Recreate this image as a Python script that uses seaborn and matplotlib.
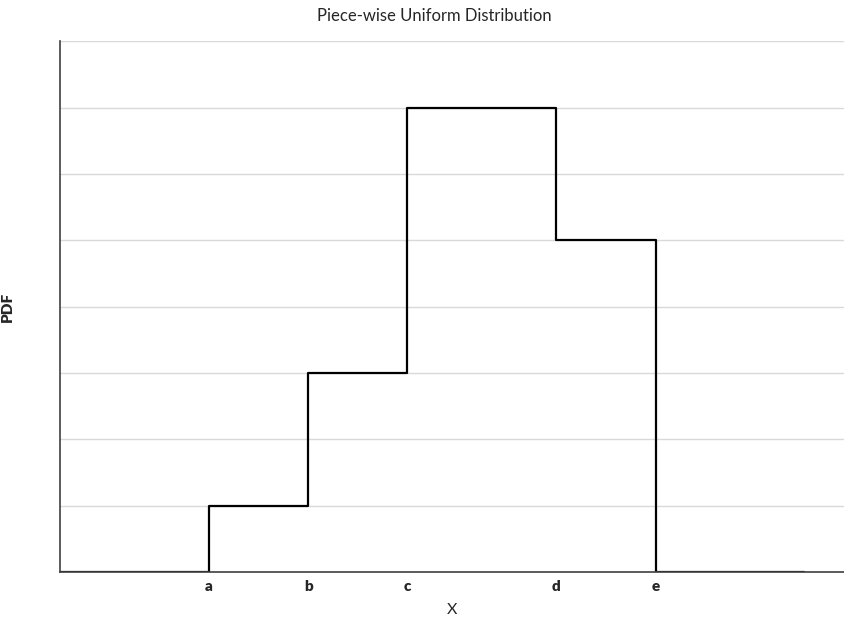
import matplotlib
matplotlib.use("Agg")
import matplotlib.pyplot as plt
import seaborn as sns
import pandas as pd

# ---- data ---- #
x_edges = [0, 3, 5, 7, 10, 12, 15]
pdf_values = [0, 1, 3, 7, 5, 0, 0]
tick_positions = [3, 5, 7, 10, 12]
tick_labels = ['a', 'b', 'c', 'd', 'e']

df = pd.DataFrame({'X': x_edges, 'PDF': pdf_values})

sns.set_style('white')
plt.rcParams['font.family'] = ['Lato', 'DejaVu Sans']

fig = plt.figure(figsize=(8.44, 6.18), dpi=100)
ax = fig.add_axes([0.0711, 0.0744, 0.929, 0.859])

sns.lineplot(data=df, x='X', y='PDF', drawstyle='steps-post', color='black',
             linewidth=1.6, ax=ax)

ax.set_xlim(0, 15.8)
ax.set_ylim(0, 8)
ax.set_yticks(range(0, 9))
ax.set_yticklabels([])
ax.tick_params(axis='y', length=0)
ax.yaxis.grid(True, color='#d9d9d9', linewidth=1)
ax.set_axisbelow(True)

ax.set_xticks(tick_positions)
ax.set_xticklabels(tick_labels, fontweight='heavy', fontsize=11)
ax.tick_params(axis='x', length=0, pad=6)

for side in ['top', 'right']:
    ax.spines[side].set_visible(False)
ax.spines['left'].set_color('#404040')
ax.spines['bottom'].set_color('#404040')
ax.spines['left'].set_linewidth(1.2)
ax.spines['bottom'].set_linewidth(1.2)

ax.set_xlabel('X', fontsize=11.5, labelpad=7)
ax.set_ylabel('PDF', fontsize=11, fontweight='heavy', labelpad=30)
fig.suptitle('Piece-wise Uniform Distribution', fontsize=12, x=0.515, y=0.987)

fig.savefig('out.png', dpi=100)
